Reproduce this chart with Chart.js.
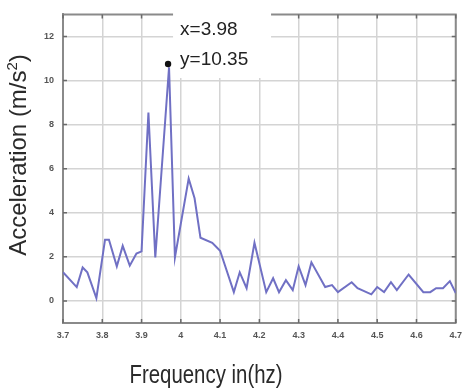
<!DOCTYPE html>
<html>
<head>
<meta charset="utf-8">
<script src="https://cdn.jsdelivr.net/npm/chart.js@4"></script>
<style>
  html, body { margin: 0; padding: 0; background: #fff; }
  #wrap { width: 469px; height: 392px; position: relative; }
</style>
</head>
<body>
<div id="wrap"><canvas id="c" width="469" height="392"></canvas></div>
<script>
// ---- data ----
const freq = [3.700, 3.735, 3.750, 3.762, 3.785, 3.807, 3.817, 3.837, 3.852, 3.870, 3.887, 3.900,
  3.9175, 3.935, 3.970, 3.985, 4.020, 4.035, 4.050, 4.080, 4.100, 4.135, 4.150, 4.1675, 4.1875,
  4.2175, 4.235, 4.250, 4.2675, 4.285, 4.300, 4.3175, 4.3325, 4.3675, 4.385, 4.400, 4.435, 4.450,
  4.485, 4.500, 4.5175, 4.535, 4.550, 4.580, 4.6175, 4.635, 4.650, 4.6675, 4.685, 4.700];
const accel = [1.30, 0.63, 1.52, 1.30, 0.13, 2.78, 2.78, 1.57, 2.50, 1.60, 2.15, 2.25,
  8.55, 1.97, 10.60, 1.97, 5.55, 4.66, 2.87, 2.64, 2.28, 0.40, 1.30, 0.58, 2.64,
  0.40, 1.03, 0.40, 0.94, 0.49, 1.57, 0.72, 1.75, 0.63, 0.72, 0.40, 0.85, 0.58,
  0.30, 0.63, 0.40, 0.85, 0.49, 1.20, 0.40, 0.40, 0.58, 0.58, 0.90, 0.36];
const markerX = [3.9675];
const markerY = [10.75];
const markerLabels = ['x=3.98', 'y=10.35'];
const xTicks = [3.7, 3.8, 3.9, 4.0, 4.1, 4.2, 4.3, 4.4, 4.5, 4.6, 4.7];
const xTickLabels = ['3.7', '3.8', '3.9', '4', '4.1', '4.2', '4.3', '4.4', '4.5', '4.6', '4.7'];
const yTicks = [0, 2, 4, 6, 8, 10, 12];
const xTitle = 'Frequency in(hz)';
const yTitleMain = 'Acceleration (m/s';
const yTitleSup = '2';
const yTitleEnd = ')';

const FONT = '"Liberation Sans", Arial, sans-serif';

const decorPlugin = {
  id: 'decor',
  beforeDatasetsDraw(chart) {
    const { ctx, chartArea: a, scales } = chart;
    ctx.save();
    ctx.strokeStyle = '#8a8a8a';
    ctx.lineWidth = 2;
    ctx.beginPath();
    ctx.moveTo(a.left, a.top); ctx.lineTo(a.right, a.top); ctx.lineTo(a.right, a.bottom);
    ctx.stroke();
    // inward tick marks
    ctx.strokeStyle = '#6a6a6a';
    ctx.lineWidth = 1.5;
    ctx.beginPath();
    xTicks.forEach(v => {
      const px = scales.x.getPixelForValue(v);
      ctx.moveTo(px, a.bottom); ctx.lineTo(px, a.bottom - 4);
      ctx.moveTo(px, a.top); ctx.lineTo(px, a.top + 4);
    });
    yTicks.forEach(v => {
      const py = scales.y.getPixelForValue(v);
      ctx.moveTo(a.left, py); ctx.lineTo(a.left + 4, py);
      ctx.moveTo(a.right, py); ctx.lineTo(a.right - 4, py);
    });
    ctx.stroke();
    ctx.restore();
  },
  afterDatasetsDraw(chart) {
    const { ctx, scales } = chart;
    const px = scales.x.getPixelForValue(markerX[0]);
    const py = scales.y.getPixelForValue(markerY[0]);
    ctx.save();
    // annotation box
    ctx.fillStyle = '#ffffff';
    ctx.fillRect(px + 5, 0, 98, py + 14);
    // marker dot
    ctx.fillStyle = '#111';
    ctx.beginPath();
    ctx.arc(px, py, 3.2, 0, Math.PI * 2);
    ctx.fill();
    // annotation text
    ctx.fillStyle = '#222';
    ctx.font = '19px ' + FONT;
    ctx.textAlign = 'left';
    ctx.textBaseline = 'alphabetic';
    ctx.fillText(markerLabels[0], px + 12, py - 29);
    ctx.fillText(markerLabels[1], px + 12, py + 1);
    ctx.restore();
  },
  afterDraw(chart) {
    const { ctx } = chart;
    ctx.save();
    ctx.fillStyle = '#2a2a2a';
    // x title (condensed)
    ctx.font = '25px ' + FONT;
    const w = ctx.measureText(xTitle).width;
    ctx.translate(206, 383);
    ctx.scale(153 / w, 1);
    ctx.textAlign = 'center';
    ctx.textBaseline = 'alphabetic';
    ctx.fillText(xTitle, 0, 0);
    ctx.restore();
    // y title rotated
    ctx.save();
    ctx.fillStyle = '#2a2a2a';
    ctx.font = '24px ' + FONT;
    const w1 = ctx.measureText(yTitleMain).width;
    const w3 = ctx.measureText(yTitleEnd).width;
    ctx.font = '15px ' + FONT;
    const w2 = ctx.measureText(yTitleSup).width;
    const total = w1 + w2 + w3;
    ctx.translate(26, 155);
    ctx.rotate(-Math.PI / 2);
    let x0 = -total / 2;
    ctx.textAlign = 'left';
    ctx.textBaseline = 'alphabetic';
    ctx.font = '24px ' + FONT;
    ctx.fillText(yTitleMain, x0, 0);
    ctx.font = '15px ' + FONT;
    ctx.fillText(yTitleSup, x0 + w1, -9);
    ctx.font = '24px ' + FONT;
    ctx.fillText(yTitleEnd, x0 + w1 + w2, 0);
    ctx.restore();
  }
};

new Chart(document.getElementById('c'), {
  type: 'line',
  data: {
    datasets: [
      {
        data: freq.map((f, i) => ({ x: f, y: accel[i] })),
        borderColor: 'rgb(112,112,196)',
        borderWidth: 2,
        pointRadius: 0,
        tension: 0,
        fill: false
      }
    ]
  },
  options: {
    responsive: false,
    animation: false,
    layout: { padding: { top: 13, right: 6, left: 0, bottom: 0 } },
    plugins: { legend: { display: false }, tooltip: { enabled: false } },
    scales: {
      x: {
        type: 'linear',
        min: 3.7, max: 4.7,
        afterBuildTicks: s => { s.ticks = xTicks.map(v => ({ value: v })); },
        afterFit: s => { s.height = 69; },
        ticks: {
          callback: (v, i) => xTickLabels[i],
          font: { size: 9, weight: 'bold', family: FONT },
          color: '#555',
          padding: 7,
          maxRotation: 0,
          autoSkip: false
        },
        grid: { color: '#d4d4d4', lineWidth: 1.5, drawTicks: false },
        border: { color: '#8a8a8a', width: 2 }
      },
      y: {
        min: -1, max: 13,
        afterBuildTicks: s => { s.ticks = yTicks.map(v => ({ value: v })); },
        afterFit: s => { s.width = 63; },
        ticks: {
          font: { size: 9, weight: 'bold', family: FONT },
          color: '#555',
          padding: 9
        },
        grid: { color: '#d4d4d4', lineWidth: 1.5, drawTicks: false },
        border: { color: '#8a8a8a', width: 2 }
      }
    }
  },
  plugins: [decorPlugin]
});
</script>
</body>
</html>
